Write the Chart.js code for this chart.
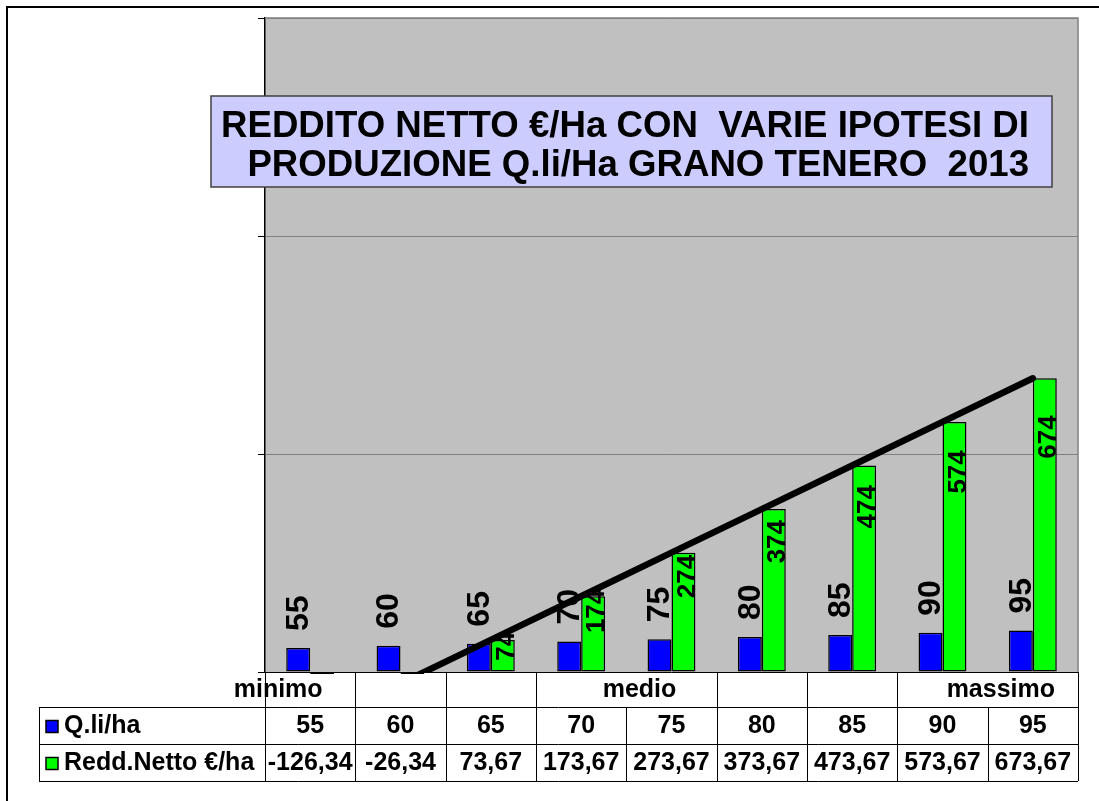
<!DOCTYPE html>
<html>
<head>
<meta charset="utf-8">
<script src="https://cdn.jsdelivr.net/npm/chart.js@4/dist/chart.umd.min.js"></script>
<style>
html,body{margin:0;padding:0;background:#fff;}
#wrap{width:1099px;height:801px;}
</style>
</head>
<body>
<div id="wrap"><canvas id="c" width="1099" height="801"></canvas></div>
<script>
// ---- data ----
const categories = ["minimo", "", "", "", "medio", "", "", "", "massimo"];
const quintali = [55, 60, 65, 70, 75, 80, 85, 90, 95];
const reddito = [-126.34, -26.34, 73.67, 173.67, 273.67, 373.67, 473.67, 573.67, 673.67];
const seriesNames = ["Q.li/ha", "Redd.Netto €/ha"];
const titleLines = ["REDDITO NETTO €/Ha CON  VARIE IPOTESI DI", "PRODUZIONE Q.li/Ha GRANO TENERO  2013"];
const yMin = 0, yMax = 1500, yStep = 500;

const FONT = '"Liberation Sans", Arial, sans-serif';
const BLUE = '#0000FF', GREEN = '#00FF00', PLOT_BG = '#C0C0C0', GRID = '#808080';

function fmt(v) { return v.toFixed(2).replace('.', ','); }

const customPlugin = {
  id: 'custom',
  beforeDraw(chart) {
    const ctx = chart.ctx, a = chart.chartArea;
    ctx.save();
    ctx.fillStyle = '#fff';
    ctx.fillRect(0, 0, chart.width, chart.height);
    ctx.fillStyle = PLOT_BG;
    ctx.fillRect(a.left, a.top, a.right - a.left, a.bottom - a.top);
    ctx.restore();
  },
  afterDatasetsDraw(chart) {
    const ctx = chart.ctx;
    const mQ = chart.getDatasetMeta(0), mR = chart.getDatasetMeta(1);
    const base = chart.scales.y.getPixelForValue(0);
    ctx.save();
    ctx.fillStyle = '#000';
    mQ.data.forEach((bar, i) => {
      ctx.save();
      ctx.translate(bar.x + 1, bar.y - 17);
      ctx.rotate(-Math.PI / 2);
      ctx.font = 'bold 32px ' + FONT;
      ctx.textAlign = 'left';
      ctx.textBaseline = 'middle';
      ctx.fillText(String(quintali[i]), 0, 0);
      ctx.restore();
    });
    mR.data.forEach((bar, i) => {
      if (reddito[i] <= 0) return;
      const h = base - bar.y;
      ctx.save();
      ctx.translate(bar.x + 4, bar.y + 0.2 * h);
      ctx.rotate(-Math.PI / 2);
      ctx.font = 'bold 26px ' + FONT;
      ctx.textAlign = 'center';
      ctx.textBaseline = 'middle';
      ctx.fillText(String(Math.round(reddito[i])), 0, 0);
      ctx.restore();
    });
    ctx.restore();
  },
  afterDraw(chart) {
    const ctx = chart.ctx, a = chart.chartArea, xs = chart.scales.x;
    const n = categories.length;
    const cw = (a.right - a.left) / n;
    ctx.save();
    // plot area top/right border
    ctx.strokeStyle = GRID; ctx.lineWidth = 1.5;
    ctx.beginPath();
    ctx.moveTo(a.left, a.top); ctx.lineTo(a.right, a.top); ctx.lineTo(a.right, a.bottom);
    ctx.stroke();

    // data table
    const r1t = a.bottom, r1b = a.bottom + 35, r2b = r1b + 37, r3b = r2b + 37;
    const tLeft = 39;
    ctx.strokeStyle = '#000'; ctx.lineWidth = 1;
    ctx.font = 'bold 25px ' + FONT;
    ctx.fillStyle = '#000';
    ctx.textBaseline = 'middle';
    const extents = [];
    categories.forEach((c, i) => {
      if (!c) return;
      const w = ctx.measureText(c).width;
      let cx = xs.getPixelForValue(i) - 32;
      if (cx + w / 2 > a.right - 3) cx = a.right - 3 - w / 2;
      ctx.textAlign = 'center';
      ctx.fillText(c, cx, (r1t + r1b) / 2 + 1);
      extents.push([cx - w / 2, cx + w / 2]);
    });
    ctx.beginPath();
    ctx.moveTo(tLeft, r1b + 0.5); ctx.lineTo(a.right, r1b + 0.5);
    ctx.moveTo(tLeft, r2b + 0.5); ctx.lineTo(a.right, r2b + 0.5);
    ctx.moveTo(tLeft, r3b + 0.5); ctx.lineTo(a.right, r3b + 0.5);
    ctx.moveTo(tLeft + 0.5, r1b); ctx.lineTo(tLeft + 0.5, r3b);
    ctx.stroke();
    ctx.beginPath();
    for (let i = 0; i <= n; i++) {
      const x = Math.round(a.left + i * cw) + 0.5;
      const crossed = i > 0 && i < n && extents.some(e => e[0] < x && e[1] > x);
      ctx.moveTo(x, crossed ? r1b : r1t);
      ctx.lineTo(x, r3b);
    }
    ctx.stroke();
    const rows = [[quintali, BLUE, r1b, r2b, v => String(v)], [reddito, GREEN, r2b, r3b, fmt]];
    rows.forEach((r, k) => {
      const [vals, col, top, bot, f] = r;
      const cy = (top + bot) / 2 + 1;
      ctx.fillStyle = col; ctx.strokeStyle = '#000'; ctx.lineWidth = 1.5;
      ctx.fillRect(46, cy - 6, 12, 12);
      ctx.strokeRect(46, cy - 6, 12, 12);
      ctx.fillStyle = '#000';
      ctx.textAlign = 'left';
      ctx.fillText(seriesNames[k], 64, cy);
      ctx.textAlign = 'center';
      vals.forEach((v, i) => ctx.fillText(f(v), xs.getPixelForValue(i), cy));
    });

    // title box
    ctx.fillStyle = '#CCCCFF';
    ctx.fillRect(211, 96, 841, 91);
    ctx.strokeStyle = '#404040'; ctx.lineWidth = 1.5;
    ctx.strokeRect(211, 96, 841, 91);
    ctx.fillStyle = '#000';
    ctx.font = 'bold 36px ' + FONT;
    ctx.textBaseline = 'alphabetic';
    ctx.textAlign = 'right';
    const sx = 808 / ctx.measureText(titleLines[0]).width;
    [137, 176].forEach((by, k) => {
      ctx.save();
      ctx.translate(1029, by);
      ctx.scale(sx, 1);
      ctx.fillText(titleLines[k], 0, 0);
      ctx.restore();
    });

    // outer border
    ctx.strokeStyle = '#000'; ctx.lineWidth = 2;
    ctx.beginPath();
    ctx.moveTo(7, 810); ctx.lineTo(7, 7); ctx.lineTo(1110, 7);
    ctx.stroke();
    ctx.restore();
  }
};

new Chart(document.getElementById('c'), {
  data: {
    labels: categories,
    datasets: [
      { type: 'bar', label: seriesNames[0], data: quintali, backgroundColor: BLUE, borderColor: '#000', borderWidth: 1.5, borderSkipped: false, order: 1 },
      { type: 'bar', label: seriesNames[1], data: reddito, backgroundColor: GREEN, borderColor: '#000', borderWidth: 1.5, borderSkipped: false, order: 1, clip: { left: 0, top: 0, right: 0, bottom: 2 } },
      { type: 'line', label: 'trend', data: reddito, borderColor: '#000', borderWidth: 6.5, pointRadius: 0, tension: 0, borderCapStyle: 'round', clip: 0, order: 0 }
    ]
  },
  options: {
    responsive: false,
    animation: false,
    devicePixelRatio: 1,
    layout: { padding: { left: 258, right: 21, top: 18, bottom: 129 } },
    datasets: { bar: { categoryPercentage: 0.53, barPercentage: 1.0 } },
    plugins: { legend: { display: false }, tooltip: { enabled: false }, title: { display: false } },
    scales: {
      x: { type: 'category', display: false, offset: true },
      y: {
        min: yMin, max: yMax,
        ticks: { display: false, stepSize: yStep },
        grid: { color: ctx => ctx.tick && ctx.tick.value === 0 ? '#000' : GRID, tickColor: '#000', tickLength: 7, drawTicks: true, lineWidth: 1 },
        border: { color: '#000', width: 1.5 },
        afterFit(s) { s.width = 7; }
      }
    }
  },
  plugins: [customPlugin]
});
</script>
</body>
</html>
